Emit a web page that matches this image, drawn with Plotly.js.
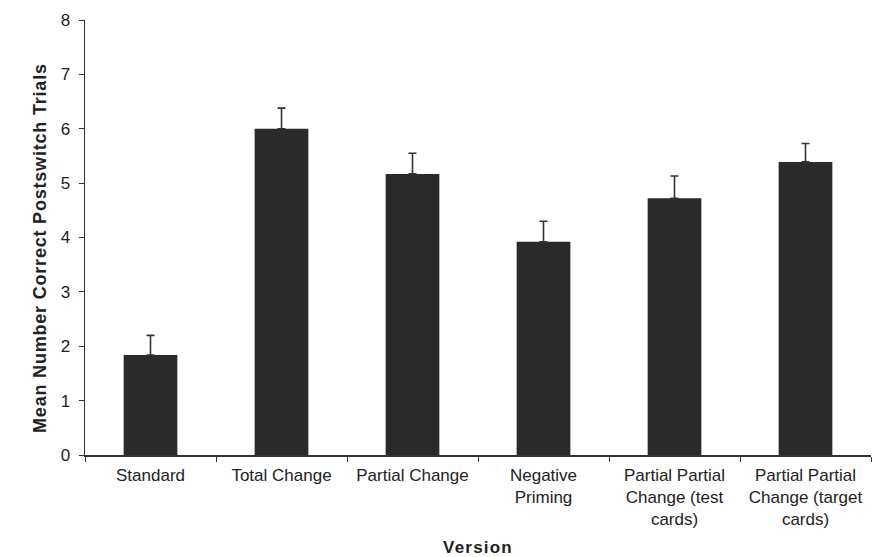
<!DOCTYPE html>
<html>
<head>
<meta charset="utf-8">
<script src="https://cdn.plot.ly/plotly-3.0.1.min.js"></script>
<style>
html,body{margin:0;padding:0;background:#fff;}
#chart{width:872px;height:557px;}
#chart .annotation-text{letter-spacing:0.8px;}
#chart .g-xtitle text{letter-spacing:1.2px;}
</style>
</head>
<body>
<div id="chart"></div>
<script>
const categories = [
  "Standard",
  "Total Change",
  "Partial Change",
  "Negative<br>Priming",
  "Partial Partial<br>Change (test<br>cards)",
  "Partial Partial<br>Change (target<br>cards)"
];
const means = [1.84, 6.0, 5.17, 3.92, 4.72, 5.39];
const errors = [0.36, 0.38, 0.38, 0.38, 0.41, 0.34];
const yTicks = [0, 1, 2, 3, 4, 5, 6, 7, 8];
const yTitle = "Mean Number Correct Postswitch Trials";
const xTitle = "Version";

const trace = {
  type: "bar",
  x: categories,
  y: means,
  width: 0.41,
  marker: {color: "#2a2a2a", line: {width: 0}},
  error_y: {
    type: "data",
    symmetric: false,
    array: errors,
    arrayminus: errors.map(() => 0),
    color: "#333",
    thickness: 1.6,
    width: 4
  },
  hoverinfo: "none"
};

const layout = {
  width: 872,
  height: 557,
  margin: {l: 85, r: 1, t: 20, b: 102},
  paper_bgcolor: "#fff",
  plot_bgcolor: "#fff",
  showlegend: false,
  font: {family: "Liberation Sans, Arial, sans-serif", color: "#222", size: 14},
  xaxis: {
    type: "category",
    showline: true,
    linecolor: "#333",
    linewidth: 1.5,
    ticks: "outside",
    tickson: "boundaries",
    ticklen: 5,
    tickcolor: "#333",
    ticklabelstandoff: 4,
    tickfont: {size: 17, color: "#222"},
    showgrid: false,
    zeroline: false,
    title: {text: "<b>" + xTitle + "</b>", font: {size: 17, color: "#222"}, standoff: 21}
  },
  yaxis: {
    range: [0, 8],
    tickvals: yTicks,
    ticktext: yTicks.map(String),
    showline: true,
    linecolor: "#333",
    linewidth: 1.5,
    ticks: "outside",
    ticklen: 5,
    tickcolor: "#333",
    ticklabelstandoff: 5,
    tickfont: {size: 17, color: "#222"},
    showgrid: false,
    zeroline: false
  },
  annotations: [{
    text: "<b>" + yTitle + "</b>",
    xref: "paper", yref: "paper",
    x: -0.057, y: 0.476,
    xanchor: "center", yanchor: "middle",
    textangle: -90,
    showarrow: false,
    font: {size: 18, color: "#222"}
  }]
};

Plotly.newPlot("chart", [trace], layout, {staticPlot: true, displayModeBar: false});
</script>
</body>
</html>
